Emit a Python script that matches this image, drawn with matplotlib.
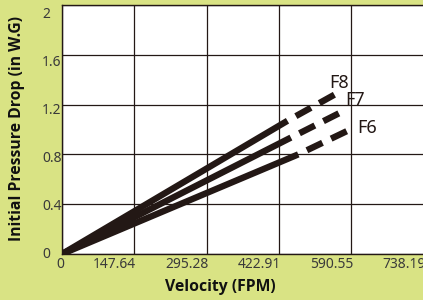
import matplotlib
matplotlib.use("Agg")
import matplotlib.pyplot as plt
from matplotlib.transforms import ScaledTranslation

# ---- data ----
x_ticks = [0, 147.638, 295.276, 442.914, 590.552, 738.19]
x_tick_labels = ["0", "147.64", "295.28", "422.91", "590.55", "738.19"]
y_ticks = [0, 0.4, 0.8, 1.2, 1.6, 2.0]
y_tick_labels = ["0", "0.4", "0.8", "1.2", "1.6", "2"]

series_names = ["F8", "F7", "F6"]
solid_x = [[0, 460], [0, 467], [0, 482]]
solid_y = [[0, 1.07], [0, 0.935], [0, 0.80]]
dash_x = [[460, 556], [467, 575], [482, 588]]
dash_y = [[1.07, 1.28], [0.935, 1.15], [0.80, 1.00]]
label_x = [565, 597, 623]
label_y = [1.37, 1.235, 1.01]

BG = "#d9e384"
INK = "#231815"
FONT = ["Noto Sans", "DejaVu Sans"]
BOLD = ["Open Sans", "DejaVu Sans"]

fig = plt.figure(figsize=(4.23, 3.0), dpi=100, facecolor=BG)
ax = fig.add_axes([62/423, 1-254/300, 1.002-62/423, (254-5)/300])
ax.set_facecolor("white")
ax.set_xlim(0, 738.19)
ax.set_ylim(0, 2.0)

for s in ["left", "bottom", "top", "right"]:
    ax.spines[s].set_color(INK)
    ax.spines[s].set_linewidth(1.0)

ax.set_xticks(x_ticks)
ax.set_yticks(y_ticks)
ax.set_xticklabels([])
ax.set_yticklabels([])
ax.tick_params(length=0)
ax.grid(True, color=INK, linewidth=0.9)
ax.set_axisbelow(True)

for sx, sy, dx, dy in zip(solid_x, solid_y, dash_x, dash_y):
    ax.plot(sx, sy, color=INK, lw=4.6, solid_capstyle="butt", zorder=3)
    ax.plot(dx, dy, color=INK, lw=4.6, linestyle=(2.7, (2.7, 1.5)),
            dash_capstyle="butt", zorder=3)

for name, lx, ly in zip(series_names, label_x, label_y):
    ax.text(lx, ly, name, ha="center", va="center", fontsize=13,
            color=INK, family=FONT)

# tick labels (offset like the reference)
for v, t in zip(x_ticks, x_tick_labels):
    tr = ax.get_xaxis_transform() + ScaledTranslation(2/100, -3/100, fig.dpi_scale_trans)
    ax.text(v, 0, t, transform=tr, ha="right", va="top", fontsize=10,
            color="#3a3a3a", family=FONT, clip_on=False)
for v, t in zip(y_ticks, y_tick_labels):
    dy_px = 1 + (v / 2.0) * 9
    tr = ax.get_yaxis_transform() + ScaledTranslation(-20/100, -dy_px/100, fig.dpi_scale_trans)
    ax.text(0, v, t, transform=tr, ha="left", va="center", fontsize=10,
            color="#3a3a3a", family=FONT, clip_on=False)

fig.text(220/423, 1-287/300, "Velocity (FPM)", ha="center", va="center",
         fontsize=11.3, fontweight="bold", color="#111111", family=BOLD)
fig.text(17/423, 1-128/300, "Initial Pressure Drop (in W.G)", ha="center",
         va="center", rotation=90, fontsize=11.3, fontweight="bold",
         color="#111111", family=BOLD)

fig.savefig("out.png", dpi=100, facecolor=BG)
